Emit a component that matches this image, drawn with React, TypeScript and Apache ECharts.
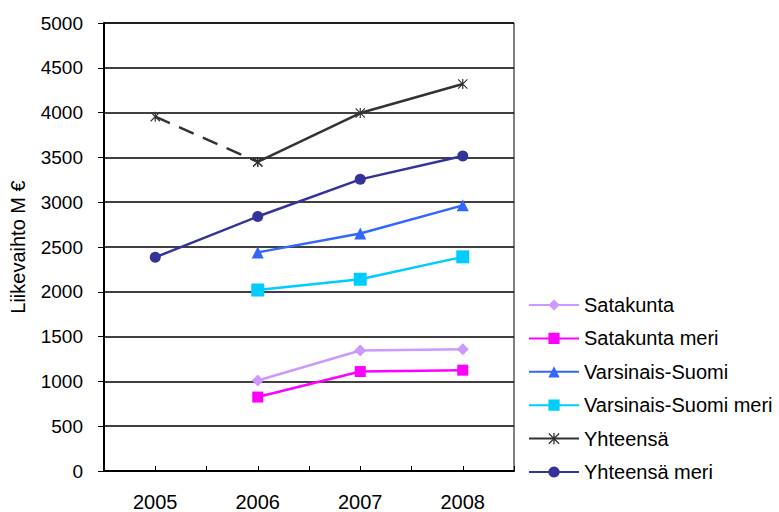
import React, { useEffect, useRef } from "react";
import * as echarts from "echarts";

const years = [2005, 2006, 2007, 2008];
const satakunta = [null, 1010, 1345, 1360];
const satakuntaMeri = [null, 825, 1110, 1125];
const varsinaisSuomi = [null, 2440, 2650, 2965];
const varsinaisSuomiMeri = [null, 2020, 2140, 2390];
const yhteensa = [3955, 3450, 3995, 4320];
const yhteensaMeri = [2385, 2840, 3255, 3515];
const yTicks = [0, 500, 1000, 1500, 2000, 2500, 3000, 3500, 4000, 4500, 5000];

const FONT = "'Liberation Sans', Arial, sans-serif";
const ASTERISK =
  "path://M4.4 0h1.2v10h-1.2z M0.8 0L10 9.2L9.2 10L0 0.8Z M9.2 0L10 0.8L0.8 10L0 9.2Z";

function pairs(vals: (number | null)[], from = 0, to = years.length - 1) {
  const out: [number, number][] = [];
  for (let i = from; i <= to; i++) {
    const v = vals[i];
    if (v !== null && v !== undefined) out.push([years[i], v]);
  }
  return out;
}

export default function App() {
  const ref = useRef<HTMLDivElement>(null);
  useEffect(() => {
    document.body.style.margin = "0";
    document.body.style.overflow = "hidden";
    document.documentElement.style.overflow = "hidden";
    if (!ref.current) return;
    const chart = echarts.init(ref.current, null, { renderer: "svg" });
    const mk = (name: string, vals: (number | null)[], color: string, symbol: string, size: number) => ({
      name,
      type: "line",
      data: pairs(vals),
      symbol,
      symbolSize: size,
      lineStyle: { color, width: 2.5 },
      itemStyle: { color },
      z: 3,
    });
    chart.setOption({
      animation: false,
      backgroundColor: "#fff",
      grid: { left: 102, top: 23, width: 412, height: 450, show: true, borderColor: "#000", borderWidth: 1 },
      legend: {
        data: ["Satakunta", "Satakunta meri", "Varsinais-Suomi", "Varsinais-Suomi meri", "Yhteensä", "Yhteensä meri"],
        orient: "vertical",
        left: 528,
        top: 295,
        padding: 0,
        itemWidth: 50,
        itemHeight: 14,
        itemGap: 13.4,
        textStyle: { fontFamily: FONT, fontSize: 20, color: "#000", lineHeight: 20 },
      },
      xAxis: {
        type: "value",
        min: 2004.5,
        max: 2008.5,
        interval: 0.5,
        axisLine: { show: true, lineStyle: { color: "#000", width: 2 } },
        axisTick: { show: true, inside: true, length: 5, lineStyle: { color: "#000", width: 1 } },
        splitLine: { show: false },
        axisLabel: {
          margin: 25,
          fontFamily: FONT,
          fontSize: 20,
          lineHeight: 12,
          color: "#000",
          showMinLabel: true,
          showMaxLabel: true,
          formatter: (v: number) => (Number.isInteger(v) ? String(v) : ""),
        },
      },
      yAxis: {
        type: "value",
        min: yTicks[0],
        max: yTicks[yTicks.length - 1],
        interval: yTicks[1] - yTicks[0],
        name: "Liikevaihto M €",
        nameLocation: "middle",
        nameRotate: 90,
        nameGap: 76,
        nameTextStyle: { fontFamily: FONT, fontSize: 20, color: "#000" },
        axisLine: { show: true, lineStyle: { color: "#000", width: 2 } },
        axisTick: { show: true, inside: false, length: 6, lineStyle: { color: "#000", width: 1 } },
        splitLine: { show: true, lineStyle: { color: "#000", width: 1.5 } },
        axisLabel: {
          margin: 21,
          fontFamily: FONT,
          fontSize: 19,
          color: "#000",
          formatter: (v: number) => String(v),
        },
      },
      series: [
        mk("Satakunta", satakunta, "#CC99FF", "diamond", 12),
        mk("Satakunta meri", satakuntaMeri, "#FF00FF", "rect", 11),
        mk("Varsinais-Suomi", varsinaisSuomi, "#3366FF", "triangle", 12),
        mk("Varsinais-Suomi meri", varsinaisSuomiMeri, "#00CCFF", "rect", 13),
        {
          name: "Yhteensä arvio",
          type: "line",
          data: pairs(yhteensa, 0, 1),
          symbol: ASTERISK,
          symbolSize: 10,
          lineStyle: { color: "#333333", width: 2.5, type: [16, 10] },
          itemStyle: { color: "#333333" },
          z: 3,
        },
        { ...mk("Yhteensä", yhteensa, "#333333", ASTERISK, 10), data: pairs(yhteensa, 1, 3) },
        mk("Yhteensä meri", yhteensaMeri, "#333399", "circle", 11),
      ],
    });
    return () => chart.dispose();
  }, []);
  return <div ref={ref} style={{ position: "absolute", left: 0, top: 0, width: 779, height: 512, overflow: "hidden" }} />;
}
